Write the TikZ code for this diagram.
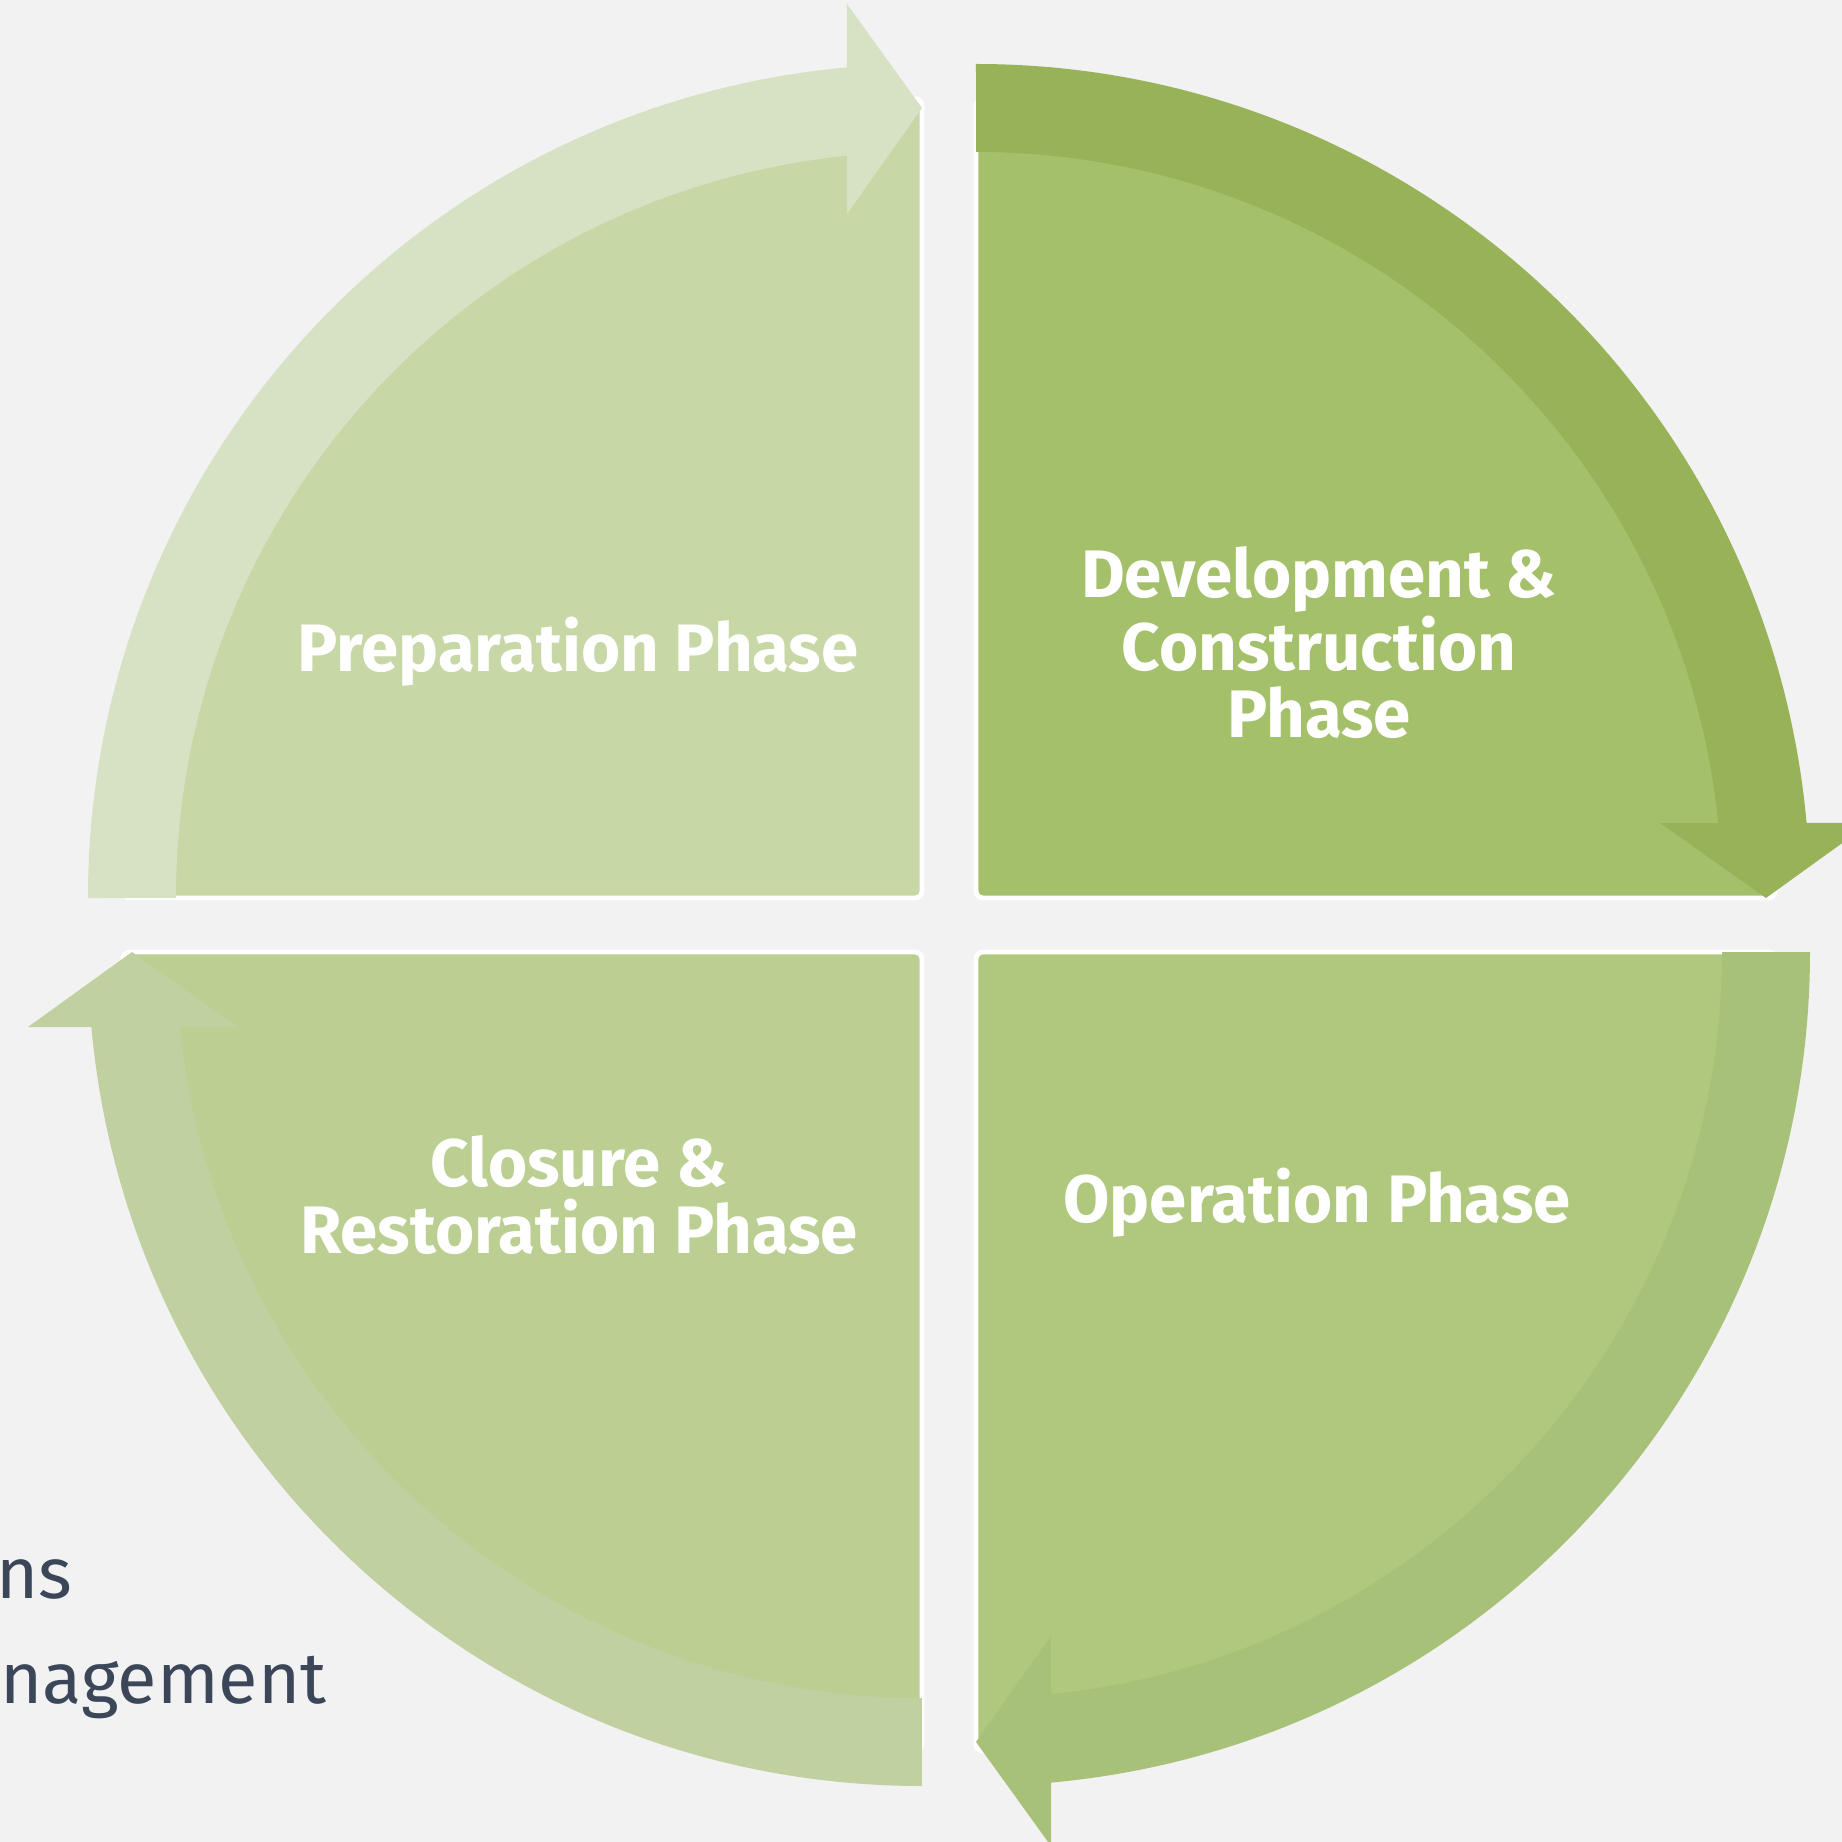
\documentclass[tikz,border=0pt]{standalone}
\usepackage{fontspec}
\setmainfont{Fira Sans}
\usepackage{xcolor}
\usepackage{tikz}

\definecolor{bgGray}{HTML}{F2F2F2}
\definecolor{noteGray}{HTML}{3C4659}
\definecolor{pieTR}{HTML}{A5C06A}
\definecolor{bandTR}{HTML}{97B257}
\definecolor{pieBR}{HTML}{B0C77E}
\definecolor{bandBR}{HTML}{A8C178}
\definecolor{pieBL}{HTML}{BCCF92}
\definecolor{bandBL}{HTML}{C0D0A1}
\definecolor{pieTL}{HTML}{C7D7A5}
\definecolor{bandTL}{HTML}{D7E1C4}

\begin{document}
\begin{tikzpicture}[x=0.01cm,y=0.01cm,
    phase/.style={text=white,font=\bfseries\fontsize{19.1}{18.8}\selectfont,align=center,inner sep=0pt,anchor=base},
    note/.style={text=noteGray,font=\fontsize{20.5}{24}\selectfont,inner sep=0pt,anchor=base east}]
    \useasboundingbox (-949,-917) rectangle (893,925);
    \clip (-949,-917) rectangle (893,925);
    \fill[bgGray] (-949,-917) rectangle (893,925);
    % four quarters, each with its arrow band
    \foreach \ang/\pie/\band in {0/pieTR/bandTR,-90/pieBR/bandBR,180/pieBL/bandBL,90/pieTL/bandTL}{
        \begin{scope}[rotate=\ang,shift={(27,27)}]
            \filldraw[fill=\pie,draw=white,line width=1.4pt,rounded corners=2pt] (0,0) -- (0,799) arc[start angle=90,end angle=0,radius=799] -- cycle;
            \fill[\band] (0,834) arc[start angle=90,end angle=5.16,radius=834] -- (894,75) -- (790,0) -- (684,75) -- (742.2,75) arc[start angle=5.77,end angle=90,radius=746] -- cycle;
        \end{scope}
    }
    \node[phase] (prep) at (-371,254) {Preparation Phase};
    \node[phase] (dev) at (370,188) {Development \&\\Construction\\Phase};
    \node[phase] (oper) at (368,-297) {Operation Phase};
    \node[phase] (clos) at (-370,-328) {Closure \&\\Restoration Phase};
    \node[note] (notea) at (-876,-673) {ns};
    \node[note] (noteb) at (-622,-778) {nagement};
\end{tikzpicture}
\end{document}
